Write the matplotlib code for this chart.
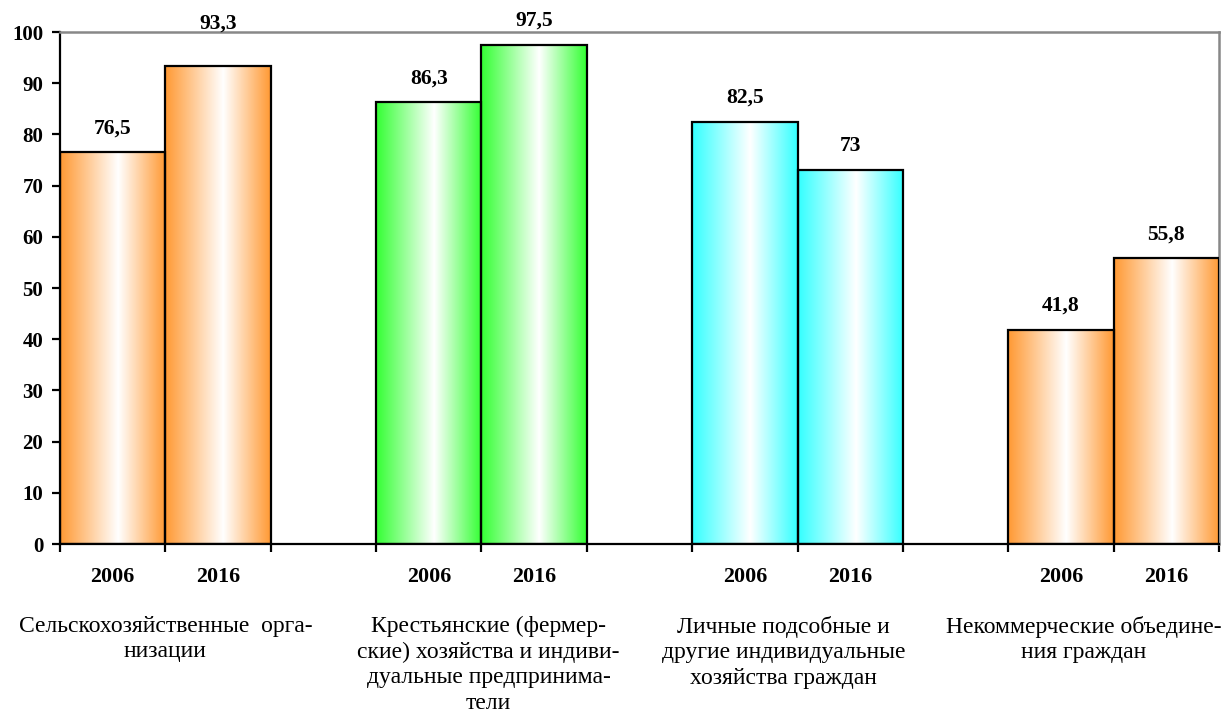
import numpy as np
import matplotlib.pyplot as plt
from matplotlib.colors import LinearSegmentedColormap

plt.rcParams['font.family'] = ['Liberation Serif', 'DejaVu Serif']

# data
groups = ['Сельскохозяйственные  орга-\nнизации',
          'Крестьянские (фермер-\nские) хозяйства и индиви-\nдуальные предпринима-\nтели',
          'Личные подсобные и\nдругие индивидуальные\nхозяйства граждан',
          'Некоммерческие объедине-\nния граждан']
years = ['2006', '2016']
values_2006 = [76.5, 86.3, 82.5, 41.8]
values_2016 = [93.3, 97.5, 73, 55.8]
group_colors = ['#FF9933', '#33FF33', '#33FFFF', '#FF9933']

# layout: each group takes 2 slots plus one empty slot
slot_start = [0, 3, 6, 9]
label_shift = [0, 7, -14, -30]      # px shift of group captions
value_lift = {(0, 1): 43}           # px lift of a few value labels

fig = plt.figure(figsize=(12.27, 7.15), dpi=100)
ax = fig.add_axes([60 / 1227, 171 / 715, 1159 / 1227, 512 / 715])
ax.set_xlim(0, 11)
ax.set_ylim(0, 100)

pt = 72 / 100  # px -> points

for gi, (v06, v16) in enumerate(zip(values_2006, values_2016)):
    cmap = LinearSegmentedColormap.from_list(
        'g%d' % gi, [(0, group_colors[gi]), (0.55, 'white'), (1, group_colors[gi])])
    grad = np.linspace(0, 1, 256).reshape(1, -1)
    for yi, val in enumerate([v06, v16]):
        x0 = slot_start[gi] + yi
        ax.imshow(grad, cmap=cmap, extent=(x0, x0 + 1, 0, val), aspect='auto',
                  interpolation='bilinear', zorder=2)
        ax.bar(x0 + 0.5, val, width=1, facecolor='none', edgecolor='black',
               linewidth=1.6, zorder=3)
        txt = ('%g' % val).replace('.', ',')
        lift = value_lift.get((gi, yi), 24)
        ax.annotate(txt, (x0 + 0.5, val), xytext=(0, lift * pt),
                    textcoords='offset points', ha='center', va='center',
                    fontsize=15.5, fontweight='bold', annotation_clip=False)
        ax.annotate(years[yi], (x0 + 0.5, 0), xycoords=('data', 'axes fraction'),
                    xytext=(0, -33 * pt), textcoords='offset points',
                    ha='center', va='center', fontsize=15.8, fontweight='bold')
    ax.annotate(groups[gi], (slot_start[gi] + 1, 0), xycoords=('data', 'axes fraction'),
                xytext=(label_shift[gi] * pt, -72 * pt), textcoords='offset points',
                ha='center', va='top', fontsize=17, linespacing=1.28)

ax.set_xticks(range(12))
ax.set_xticklabels([])
ax.set_yticks(range(0, 101, 10))
ax.tick_params(axis='y', direction='out', length=6, width=1.6, labelsize=15, pad=6)
ax.tick_params(axis='x', direction='out', length=6, width=1.6)
for lab in ax.get_yticklabels():
    lab.set_fontweight('bold')

for side in ['left', 'bottom']:
    ax.spines[side].set_linewidth(1.6)
    ax.spines[side].set_color('black')
for side in ['top', 'right']:
    ax.spines[side].set_linewidth(1.8)
    ax.spines[side].set_color('#888888')
ax.spines['bottom'].set_zorder(4)

fig.savefig('out.png', dpi=100)
